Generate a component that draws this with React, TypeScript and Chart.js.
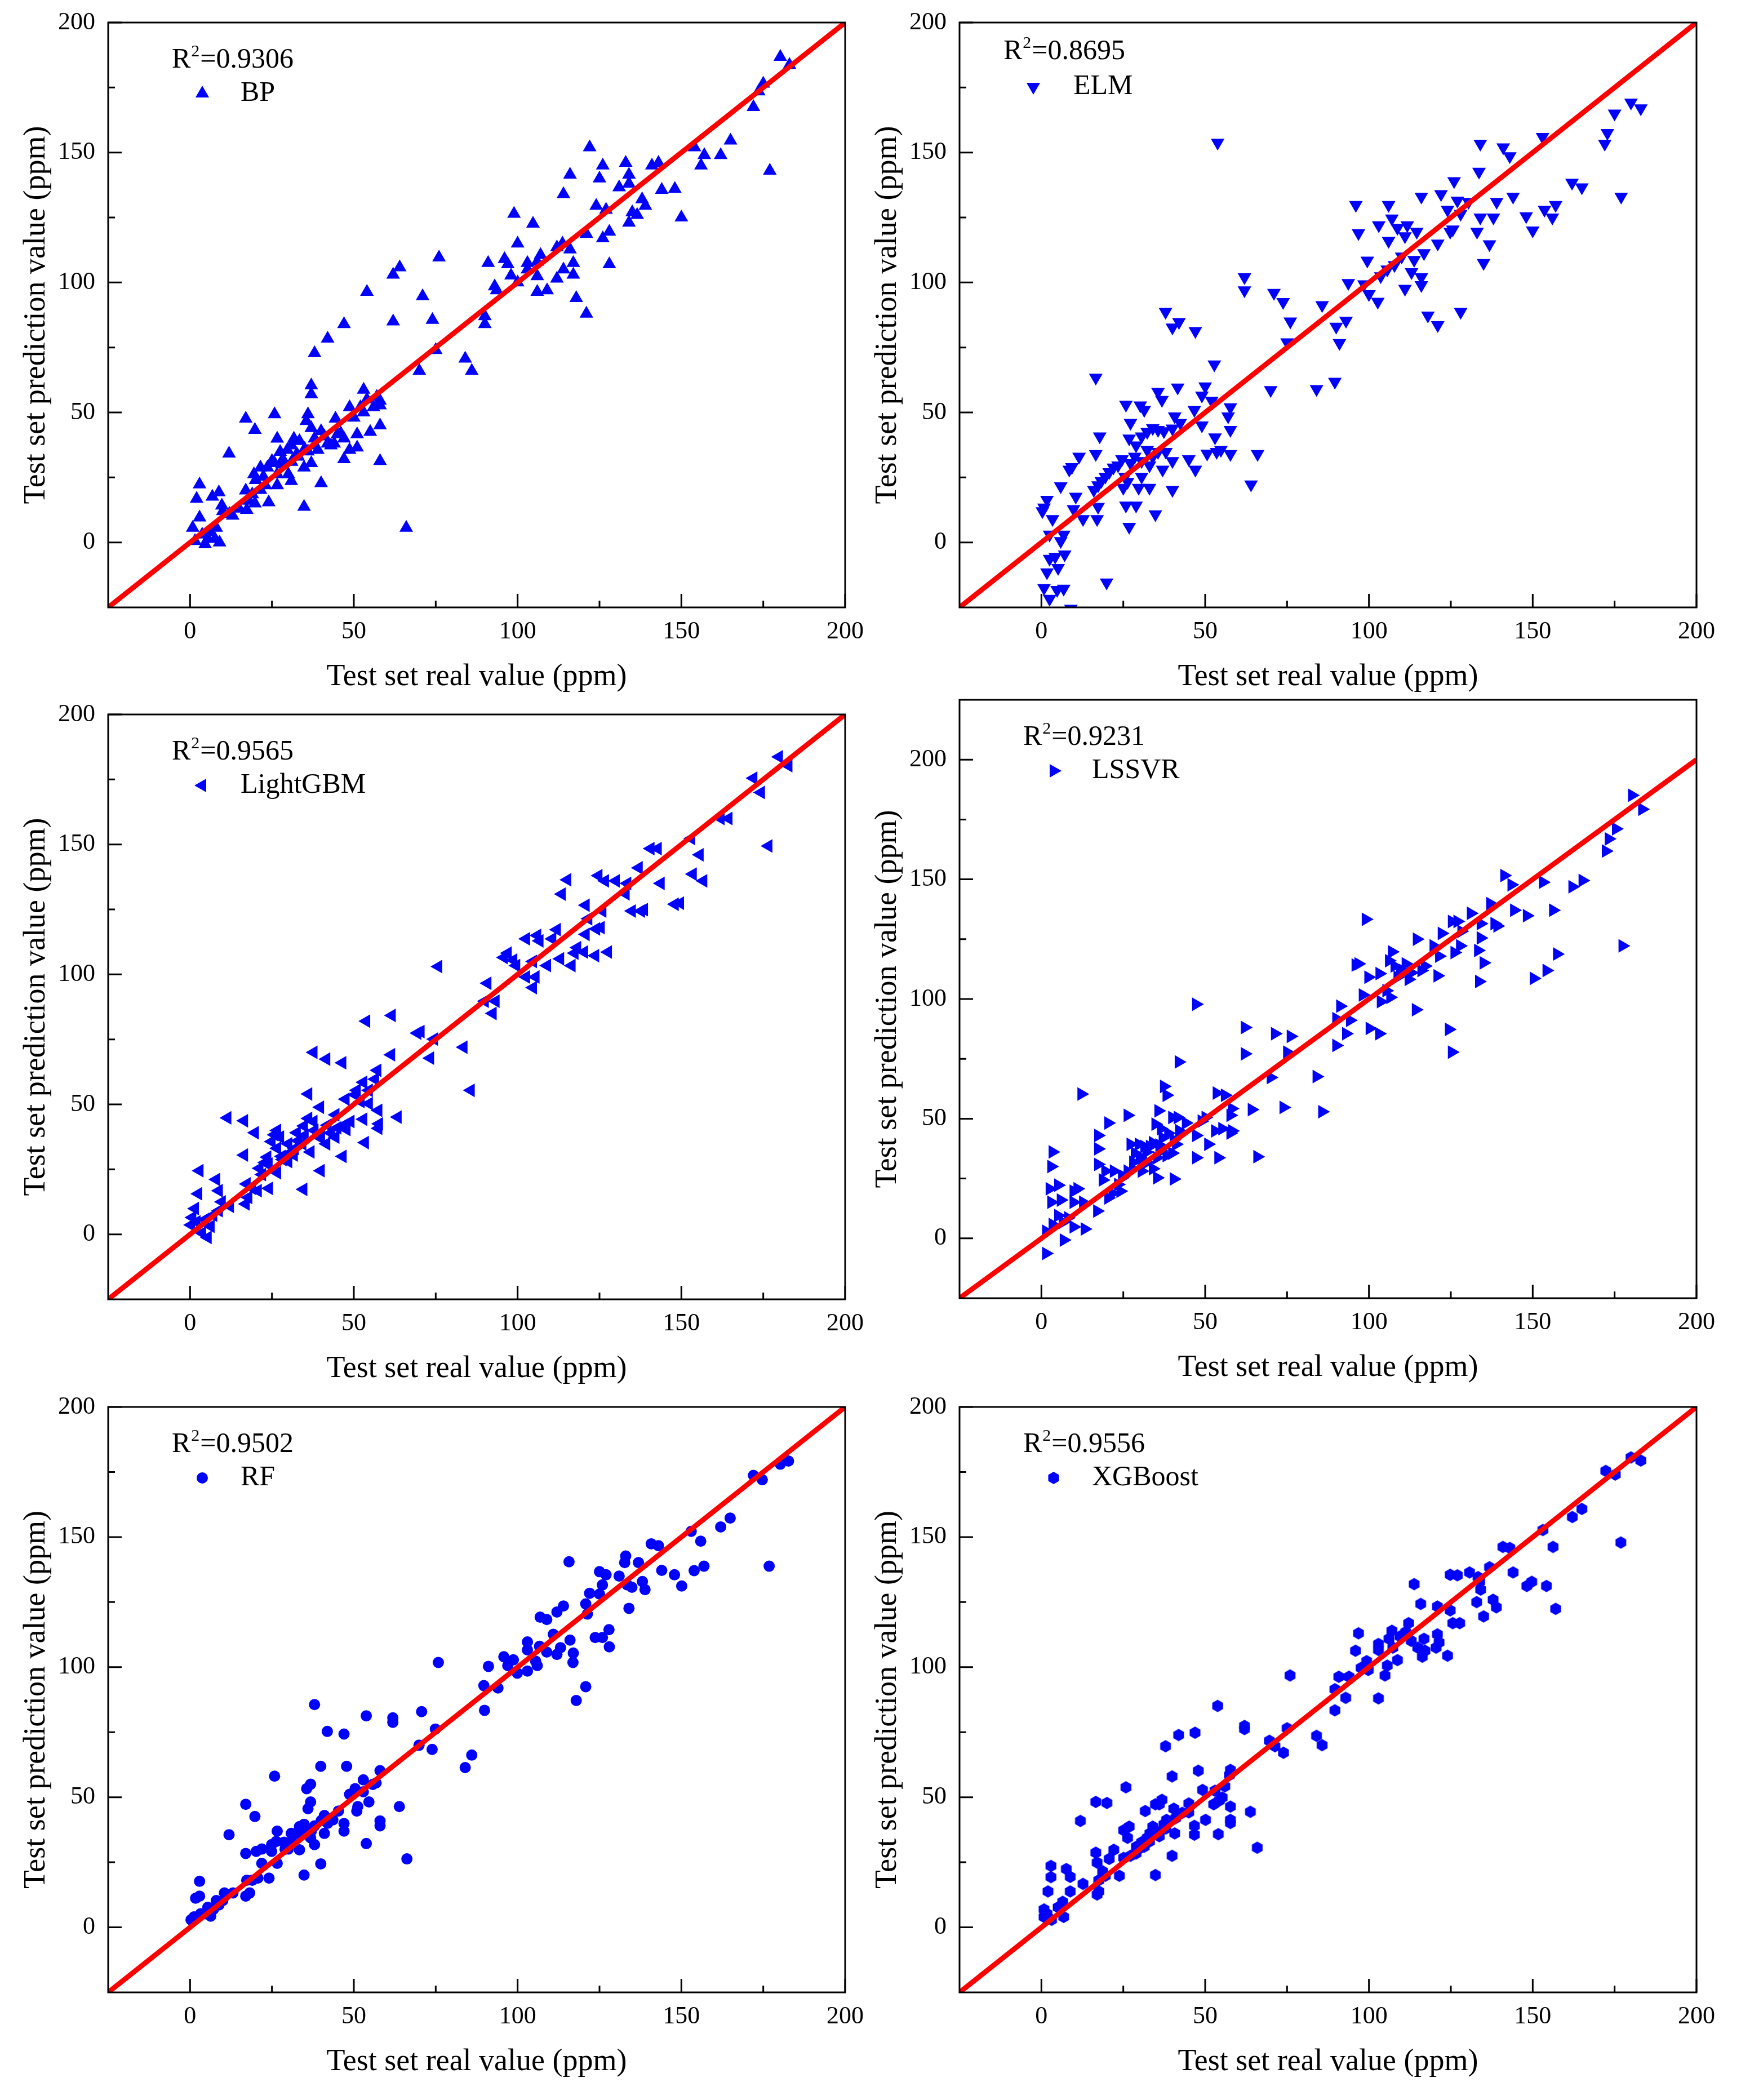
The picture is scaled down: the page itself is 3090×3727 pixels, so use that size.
import { useEffect, useRef } from 'react';
import { Chart, registerables } from 'chart.js';
import { drawPoint } from 'chart.js/helpers';

Chart.register(...registerables);

const FONT = '"Liberation Serif", "Times New Roman", Times, serif';
const BLUE = '#0000ff';
const RED = '#ff0000';

// axis ticks shared by every panel
const MAJOR_TICKS = [0, 50, 100, 150, 200];
const MINOR_TICKS = [25, 75, 125, 175];
const IDENTITY_LINE = [-25, 200];

// test set: [real value, predicted value] (ppm)
const bpPoints: [number, number][] = [
  [180.2, 186.8], [183, 183.7], [175, 176.5], [173.6, 173.5], [172, 167.5], [177, 143], [165, 154.6], [162, 149],
  [157, 149], [156, 145], [154, 152], [150, 125], [148, 136], [144, 135.6], [143, 146], [141, 145], [138, 132],
  [139, 129.5], [136.5, 126], [135, 127], [134, 123], [133, 146], [134, 141.5], [134, 138], [131, 136.6], [126, 145],
  [125, 140], [122, 152], [124, 129.5], [126, 117], [127, 128], [128, 119.5], [128, 107], [121, 118.7], [121, 88],
  [117.9, 94], [116, 141.5], [114, 134], [116, 112.7], [117, 107.5], [117, 103], [113.7, 115], [112, 113.5],
  [112, 101.5], [114, 105], [109, 97], [107, 110.6], [106, 108], [106, 102.4], [106, 96.4], [103, 107.5], [103, 105],
  [104.7, 122.6], [100, 115], [98.9, 126.4], [100, 100], [98, 102.7], [96, 109], [97, 107], [93, 98.5], [93.6, 97],
  [91, 107.5], [90, 87], [90, 84], [84, 70.7], [86, 66], [76, 109.6], [75, 74], [74, 85.6], [71, 94.7], [70, 66],
  [64, 105.8], [62, 103], [62, 85], [54, 96.4], [47, 84], [42, 78.4], [38, 72.8], [66, 5.6], [58, 31.3], [58, 54.5],
  [58, 45], [57, 56], [58, 52.7], [53, 58.7], [53, 50], [52, 52], [48.7, 52], [55, 42.5], [51, 41.6], [51, 36.5],
  [48.7, 35.6], [47, 32], [47, 40], [44.4, 47.6], [45, 41.6], [43, 37.3], [41, 40.8], [40, 42.8], [40, 22.8],
  [39, 35.6], [38, 37.3], [37, 60.4], [37, 57], [36, 49.3], [35.5, 46.7], [37, 44], [37, 30.5], [34.8, 28.8],
  [34.8, 13.7], [33.4, 39], [32.6, 34], [31.7, 39.9], [30.9, 37.3], [29.7, 35.6], [28.3, 32], [27.5, 34.8],
  [26.6, 39.9], [25.8, 49.3], [25.8, 30.5], [26.6, 26.2], [30, 26.2], [30.9, 23.6], [25, 31.3], [23.6, 28.8],
  [22.4, 25.3], [26.6, 22], [24, 15.4], [21.5, 28.8], [21.5, 20.2], [19.8, 43.3], [17, 47.6], [19.5, 26.2],
  [19, 18.5], [19.8, 15], [17, 20], [17.3, 12.5], [18, 16], [11.9, 34.2], [13, 10.3], [9.7, 14.2], [8.8, 19.3],
  [6.8, 17.6], [8, 5.6], [9, 0], [7.6, 1.4], [6, 4], [4.6, -0.7], [2.9, 22.3], [2, 16.8], [2.9, 9.6], [0.8, 5.6],
  [1.5, 0.5], [3.7, 3], [5.4, 1.4], [28, 30], [33, 33], [35, 36], [38, 40], [42, 38], [46, 42], [50, 48], [54, 55],
  [56, 52], [23, 22], [20, 24], [15, 13], [12, 11], [10, 12], [31, 31], [36, 35], [44, 38],
];

const elmPoints: [number, number][] = [
  [180, 169.2], [183, 167], [175, 165], [172.8, 157.5], [172, 153.4], [177, 133], [165, 136.6], [162, 138.4],
  [157, 129.8], [156, 125], [153.6, 128], [153, 156], [150, 120], [148, 125.5], [144, 133], [141, 152], [143, 148.6],
  [139, 131], [138, 125], [136.8, 114.7], [135, 107.5], [134, 153.4], [133.6, 142.6], [134, 125], [133, 119.5],
  [130.4, 131], [128, 88.7], [128, 126.4], [126, 139], [125.6, 120.4], [124.8, 119.5], [124, 128], [122, 134],
  [127, 131.5], [121, 115], [121, 83.6], [118, 87.3], [116.8, 111.3], [116, 133], [116, 102], [116, 99],
  [114.6, 119.5], [113, 104], [113.8, 108.7], [111.7, 122], [111, 97.6], [111, 117.8], [110, 110], [108.7, 121],
  [107, 124.6], [106, 129.8], [106, 116], [107.8, 106.7], [105.6, 105], [103.6, 102.4], [103, 122], [102.7, 92.6],
  [100, 95.5], [99.5, 108.4], [98.5, 99.3], [96.8, 119], [96, 129.8], [93.7, 99.8], [93, 85.3], [91, 76.7], [90, 83],
  [89.6, 61.8], [85.7, 91.3], [84, 59], [76, 85], [75, 77], [73.8, 92.5], [71, 96], [70, 58.6], [62, 102], [62, 97],
  [66, 34], [64, 22.3], [53.8, 153.8], [52.8, 68.5], [50, 60], [57.7, 52], [57, 48.5], [57.7, 43.3], [57.7, 34],
  [54.8, 35.6], [53, 40.4], [53.5, 34.8], [50.6, 34.2], [52, 54.5], [49, 56.5], [46.7, 51], [49, 45], [47, 28],
  [45, 32], [41.6, 59.6], [37.9, 88.7], [40, 82.7], [42, 84.8], [47, 81.3], [35.6, 57.9], [36.8, 54.8], [40.7, 48.5],
  [42.4, 46], [40, 43.8], [37.4, 42.8], [35.6, 43.3], [34, 44], [32.3, 42.5], [30.6, 40.8], [30.2, 52.7], [31.4, 51],
  [26.8, 40], [27.2, 46], [25.8, 53], [28.9, 37.3], [32.3, 35.6], [34, 33], [35.6, 34.8], [38, 34.8], [40, 31.3],
  [37, 28], [33, 29.6], [30.6, 31.3], [28.5, 33], [27.2, 30.5], [24.6, 32], [23.4, 29.6], [22, 28.8], [20.7, 27],
  [19.5, 25.3], [18.3, 23.6], [17.3, 22], [16, 20.2], [25.5, 25.3], [26.3, 23.3], [25, 21], [25.8, 14.2],
  [28.9, 14.2], [29.7, 21], [33, 21], [30.6, 25.3], [26.8, 6], [34.8, 10.8], [40, 20.2], [17.8, 40.8], [16.6, 34],
  [16.6, 63.4], [11.5, 33], [9.3, 29], [8.5, 28], [5.9, 21.6], [10.5, 17.6], [9.8, 12.8], [12.7, 9], [17, 9],
  [17.3, 13.7], [1.7, 16.4], [0.8, 13.4], [0.3, 12], [3.4, 9], [2.5, 3], [6.8, 3], [5.9, 0.5], [4.2, -5.5],
  [2.5, -6.3], [5.1, -9.8], [7.1, -4.6], [1.7, -11.5], [0.8, -17.5], [2.5, -21.7], [4.8, -18.3], [6.8, -17.8],
  [9, -25.5], [19.9, -15.4],
];

const lightgbmPoints: [number, number][] = [
  [179.8, 183.7], [182.7, 180.3], [172, 175.5], [174.3, 170], [176.6, 149.4], [164.4, 160], [162, 160], [155.6, 146],
  [156.7, 136], [153, 152.3], [153.5, 138.6], [149.6, 127.4], [148, 127], [143.7, 135], [142.8, 148.4], [140.6, 148.4],
  [137, 141], [138.6, 124.9], [137.7, 124.4], [134.9, 124.4], [133.5, 135], [133, 131], [130, 136], [126.7, 136],
  [124.7, 138], [127.6, 108.6], [125.4, 118], [124, 117.5], [123.7, 107.2], [125.9, 124.4], [120.8, 126.6],
  [121.6, 121.4], [120.8, 115.4], [120.3, 108.6], [117.4, 108.2], [116.5, 103.4], [118.2, 110.3], [115.2, 136.4],
  [113.5, 130.9], [112, 117.2], [113, 106], [110.6, 113.7], [109, 103.4], [106.7, 112.9], [106, 115], [104.7, 105],
  [105.5, 99], [104.7, 94.9], [102.6, 113.7], [102.6, 99], [99.6, 103.4], [98.7, 105.5], [97, 108.2], [95.8, 106.5],
  [90.8, 96.6], [90, 89.7], [93.3, 89.7], [92.4, 85], [83.5, 72], [85.7, 55.4], [75.8, 103], [74.5, 75.1],
  [73.3, 67.8], [70.4, 78], [69.4, 77.4], [61.6, 84.2], [61.4, 69.1], [53.8, 82], [57.2, 63.1], [56.5, 59.7],
  [54.6, 55.4], [52.9, 58.5], [50.9, 55.4], [50.4, 53.7], [52.1, 51.1], [54.6, 50.3], [57.5, 47.7], [57.7, 42.5],
  [57.5, 40.8], [63.4, 45.1], [52.9, 44.3], [53.4, 35.3], [49, 43.4], [47.8, 40.3], [47, 42], [46.6, 30], [46.5, 66],
  [47.5, 52], [44.4, 46], [44.4, 37.4], [41.6, 67.4], [37.7, 70], [39.7, 48.9], [41.6, 34.8], [39.4, 37.4],
  [39.9, 24.5], [37.7, 43.4], [36.1, 54], [36.1, 44.6], [36.8, 31.7], [34.6, 17.3], [34.8, 41.7], [34.3, 34.8],
  [32.6, 39.1], [31.7, 30.5], [30, 28], [28.3, 28.8], [26.6, 33.1], [26.6, 40], [25.8, 38.3], [24.9, 35.7],
  [27.5, 37.4], [30, 34.8], [23.6, 29.7], [22.9, 27.6], [21.2, 25.4], [26.6, 23.7], [24.1, 17.7], [19.8, 39.1],
  [16.5, 43.7], [11.4, 44.8], [16.5, 30.5], [17.3, 19.4], [19, 17.7], [20.7, 16.8], [17, 11.7], [17.8, 14.2],
  [12.2, 10.8], [9.7, 12.5], [8, 21.1], [8.8, 16.8], [7.1, 7.4], [6.3, 3.1], [5.4, -1.2], [3.7, 0.5], [2.9, 24.5],
  [2.5, 15.6], [1.5, 9.9], [0.7, 6.5], [0.3, 3.6], [2, 4.8], [4.6, 5.7], [8.8, 9.1], [30, 31], [33, 36], [35, 38],
  [38, 40], [42, 42], [28, 30], [24, 27], [22, 23], [43, 39], [45, 41], [40, 38], [32, 33],
];

const lssvrPoints: [number, number][] = [
  [180.3, 185.1], [183.4, 179.3], [175.4, 171.1], [173.2, 166.9], [172.3, 161.8], [177.4, 122.2], [165.2, 149.5],
  [162.1, 146.9], [156.2, 137.1], [157.4, 118.8], [154.2, 111.9], [150.3, 108.6], [153.1, 148.8], [148.2, 134.8],
  [144.3, 137.1], [143.5, 147.7], [141.3, 151.6], [139.2, 130.5], [138.3, 131.5], [137, 139.9], [135, 115.1],
  [133.6, 107.3], [134.1, 125.5], [133.3, 120.3], [134.1, 131.5], [131.1, 135.8], [128.2, 128.3], [127.8, 122.2],
  [127, 132.4], [125.3, 132.4], [126.1, 119.4], [122.2, 127.4], [121.4, 117.9], [120.9, 109.7], [124.4, 87.3],
  [125.3, 77.8], [119.7, 122.2], [117.1, 113.8], [116, 111.9], [114.6, 125], [114.3, 95.5], [112.9, 111],
  [112.1, 108.2], [111.2, 114.7], [110.4, 111.9], [109.5, 111], [108.7, 109.1], [107.8, 113.8], [107, 119.7],
  [106.1, 116], [106.5, 100.7], [105.3, 103.5], [103.6, 98.9], [103.2, 110.6], [103.1, 85.5], [100.2, 87.7],
  [99.8, 109.1], [98.1, 101.7], [99, 133.3], [96.8, 114.7], [95.9, 114.2], [94.2, 91.1], [93, 85.5], [91.2, 97],
  [90, 91.8], [90, 80.6], [85.7, 52.9], [84, 67.6], [76.1, 84.4], [75, 77.8], [71.3, 85.5], [70, 67.2], [73.9, 54.7],
  [62.1, 88.1], [62.1, 77.1], [64.2, 53.8], [65.9, 34.1], [47.2, 97.8], [41.9, 73.7], [58.1, 54.2], [57.7, 51.4],
  [58.2, 44.9], [57.7, 44], [56, 59.8], [53.5, 60.7], [55.2, 45.8], [54, 33.7], [53, 44.9], [50.9, 39.3], [48.9, 49],
  [50.1, 50.5], [47.2, 43], [47.2, 33.7], [44.1, 48.2], [41.6, 50.5], [39.9, 50.5], [37.4, 63.5], [38.2, 59.8],
  [35.7, 53.3], [34.8, 47.7], [36.5, 45.8], [38.7, 43.9], [40.4, 41.2], [41.1, 39.3], [39.9, 35.6], [40.4, 24.8],
  [38.2, 34.6], [36.5, 36.5], [35.3, 33.7], [35.3, 25.3], [33.1, 38.4], [31.4, 38.4], [29.7, 39.3], [27.2, 39.3],
  [28.5, 35.6], [30.6, 32.8], [32.3, 31.8], [34, 29.1], [30.6, 28.1], [28, 31.8], [26.3, 28.1], [26.3, 51.4],
  [24.6, 25.3], [23.4, 22.5], [22.1, 28.1], [20.4, 48.2], [19.5, 28.1], [18.7, 24.4], [20.4, 16.9], [21.7, 18.8],
  [24.1, 19.7], [17.3, 43], [17.3, 37.4], [17.3, 30.9], [17, 11.4], [12.2, 60.3], [11, 20.7], [9.8, 19.7],
  [9.8, 15.1], [12.7, 15.1], [5.1, 22.2], [2.5, 20.7], [3, 15.1], [3.4, 36.1], [3, 30], [5.9, 16], [5.1, 9.5],
  [6.5, 6.7], [6.8, -0.7], [9.8, 4.8], [13.2, 3.9], [3.4, 5.8], [1.4, 3], [1.4, -6.3], [8.1, 8.6], [32, 36],
  [34, 40], [37, 42], [30, 34], [28, 29], [36, 39], [42, 45], [25, 26],
];

const rfPoints: [number, number][] = [
  [180.2, 178], [182.7, 179.2], [172, 173.7], [174.7, 172], [176.8, 138.8], [164.9, 157.3], [162, 153.9],
  [155.9, 148.4], [156.9, 138.8], [153, 152.2], [153.9, 137.1], [150.1, 131.2], [147.9, 135.5], [144, 137.2],
  [143, 146.7], [140.8, 147.4], [136.9, 140.2], [138.1, 132.9], [138.9, 129.8], [134, 122.6], [134.9, 130.7],
  [133.5, 131.6], [133, 142.7], [132.7, 140.2], [131, 135], [127, 135.5], [125.9, 131.6], [125, 136.7], [125, 128.1],
  [122, 128.4], [120.8, 124.3], [121.3, 120.4], [127.9, 114.4], [128, 107.8], [125.9, 111.4], [123.7, 111.4],
  [120.8, 92.5], [117.9, 87.2], [117, 105.4], [116.9, 101.8], [116, 110.4], [115.7, 140.5], [114, 123.5],
  [112, 121.2], [110.9, 112.6], [113.1, 107.5], [112, 104.9], [108.9, 118.3], [106.9, 119.2], [106.7, 108],
  [108.9, 105.8], [105.5, 102.3], [106, 100.6], [103, 109.7], [103, 106.6], [103, 98.5], [99.9, 97.7], [98.7, 102.8],
  [97, 100.6], [95.8, 104], [91.1, 100.3], [89.7, 92.9], [89.9, 83.4], [94, 92], [86, 66.2], [84, 61.4],
  [75.8, 101.8], [74.9, 76.2], [73.9, 68.4], [70.7, 82.9], [69.9, 70], [61.9, 80.5], [61.9, 78.8], [53.8, 81.3],
  [47, 74.3], [41.9, 75.3], [38, 85.6], [66.2, 26.3], [63.9, 46.4], [58, 40.9], [58, 39], [58, 60.2], [56.8, 55.5],
  [55.8, 54.9], [54.6, 48.2], [52.9, 56.7], [52.9, 52.1], [51.2, 46.4], [50.9, 44.7], [50.4, 53.3], [48.7, 51.1],
  [47.8, 61.9], [47, 39.9], [47, 37], [53.8, 32.2], [45.3, 44.7], [43.6, 41.3], [41, 43], [41, 36.1], [39.9, 61.9],
  [39.9, 24.4], [38, 31.8], [36.8, 48.2], [36, 45.6], [35.6, 53.3], [36.8, 55], [36.8, 34.4], [34.8, 20.1],
  [34.8, 39.6], [33.4, 38.7], [32.6, 36.1], [33.4, 29.8], [30.9, 36.1], [30, 30.1], [28.7, 32.7], [26.6, 37],
  [26.3, 33], [24.9, 31.8], [24.9, 29.2], [25.8, 58.1], [26.6, 24.6], [24.1, 18.9], [21.9, 24.6], [21.9, 30.1],
  [20.2, 29.2], [19.8, 42.6], [17, 47.3], [17, 28.4], [20.7, 18.9], [19, 18.1], [17.3, 18.1], [18.2, 13.2],
  [17, 12], [11.9, 35.6], [13.1, 13.2], [10.5, 13.2], [10, 10.3], [8.8, 8.6], [8, 10.3], [7.1, 6.9], [6.3, 4.3],
  [5.4, 7.7], [4.6, 5.2], [2.9, 17.7], [2.9, 12], [1.7, 11.2], [1.2, 4], [0.3, 2.9], [3.2, 5.2], [31, 33], [35, 36],
  [38, 39], [40, 41], [29, 30], [37, 37], [42, 40],
];

const xgboostPoints: [number, number][] = [
  [180, 180.6], [183, 179.4], [172.3, 175.4], [175.2, 174], [176.9, 147.9], [165, 160.8], [162.1, 157.7],
  [153.1, 152.7], [156.2, 146.2], [157, 122.4], [154.2, 131.2], [149.7, 132.8], [148.2, 131.2], [144, 136.4],
  [143, 145.8], [140.9, 146.2], [136.8, 138.4], [138.9, 123], [137.9, 125.9], [135, 119.5], [134.1, 129.8],
  [133.8, 132.9], [133.3, 134.6], [132.9, 125], [130.7, 136.4], [127, 135.3], [124.8, 135.5], [127.7, 116.9],
  [125.6, 116.9], [124.8, 121.8], [124, 104.4], [120.9, 123.3], [120.9, 112.6], [121.4, 109.5], [120.5, 107.5],
  [115.8, 124.3], [113.8, 131.9], [116.8, 110.9], [117.1, 106.3], [116.3, 104], [114.9, 107.5], [112.9, 110.1],
  [112.1, 116.9], [111.2, 113.5], [109.5, 111.8], [108.7, 102.7], [107, 114], [107.3, 107.5], [106.1, 110.9],
  [105.6, 100.6], [104.9, 96.8], [102.9, 108.9], [102.9, 106.6], [102.9, 88], [99.8, 98.9], [99.3, 102.3],
  [97.6, 99.7], [96.8, 113], [95.9, 106.3], [93.9, 96.3], [92.9, 88.2], [90.8, 96.3], [89.6, 91.5], [89.6, 83.4],
  [85.7, 70], [84, 73.6], [75.9, 96.8], [75, 76.5], [73.9, 67.1], [71.3, 69.6], [69.6, 71.7], [62, 77.4], [62, 76.2],
  [53.8, 85.1], [46.9, 74.8], [41.9, 73.9], [37.9, 69.6], [65.9, 30.6], [63.8, 44.4], [57.7, 60.5], [57.4, 58.5],
  [56, 54.2], [57.7, 46.4], [57.7, 41.3], [57.7, 40.1], [55.2, 49.9], [54.3, 48.7], [54, 35.8], [52.6, 47.3],
  [53, 52.5], [49.2, 52.8], [50.1, 41.3], [47.9, 60.2], [46.7, 39], [46.7, 35.6], [45, 47.6], [45, 44.2], [39.9, 58],
  [40.4, 45.6], [40.7, 36.1], [39.9, 27.5], [38.2, 41.3], [37.4, 39.6], [36.8, 49], [36, 47.3], [34.8, 47.3],
  [34.8, 20.1], [34, 38.7], [33.1, 36.1], [32.3, 34.4], [31.7, 44.7], [30.6, 32.7], [31.4, 31], [29.7, 30.1],
  [28.9, 28.4], [27.2, 27.5], [25.8, 53.8], [26.8, 38.7], [25.1, 37.3], [26.3, 34.4], [25.1, 26.7], [23.8, 19.8],
  [22.1, 29.8], [20.7, 26.3], [20, 47.8], [16.6, 48.2], [16.6, 28.7], [17, 24.9], [18.7, 21.5], [19.5, 19.8],
  [17.5, 18.1], [17.5, 13.8], [17, 12.6], [11.9, 40.9], [12.7, 16.7], [8.8, 13.8], [7.6, 22.4], [8.8, 19.4],
  [2, 13.8], [2.9, 23.6], [2.9, 19.3], [6.5, 9.8], [5.1, 7.7], [6.8, 4], [3.1, 2.9], [0.8, 6.9], [0.8, 4],
  [1.7, 5.2], [33, 33], [35, 37], [38, 38], [41, 42], [29, 31], [36, 35], [43, 44],
];

type PanelDef = {
  label: string;
  r2: string;
  points: [number, number][];
  pointStyle: string;
  rotation: number;
  radius: number;
  yMax: number;
  plot: { left: number; top: number; right: number; bottom: number };
  legend: { r2x: number; r2y: number; mx: number; my: number; lx: number };
};

const LEGEND_STD = { r2x: 113, r2y: 67, mx: 167, my: 126, lx: 235 };

const PANELS: PanelDef[] = [
  { label: 'BP', r2: '0.9306', points: bpPoints, pointStyle: 'triangle', rotation: 0, radius: 14, yMax: 200,
    plot: { left: 192, top: 40, right: 1500, bottom: 1078 }, legend: LEGEND_STD },
  { label: 'ELM', r2: '0.8695', points: elmPoints, pointStyle: 'triangle', rotation: 180, radius: 14, yMax: 200,
    plot: { left: 1703, top: 40, right: 3011, bottom: 1078 }, legend: { r2x: 78, r2y: 52, mx: 131, my: 114, lx: 202 } },
  { label: 'LightGBM', r2: '0.9565', points: lightgbmPoints, pointStyle: 'triangle', rotation: -90, radius: 14, yMax: 200,
    plot: { left: 192, top: 1268, right: 1500, bottom: 2306 }, legend: LEGEND_STD },
  { label: 'LSSVR', r2: '0.9231', points: lssvrPoints, pointStyle: 'triangle', rotation: 90, radius: 14, yMax: 225,
    plot: { left: 1703, top: 1242, right: 3011, bottom: 2304 }, legend: LEGEND_STD },
  { label: 'RF', r2: '0.9502', points: rfPoints, pointStyle: 'circle', rotation: 0, radius: 10, yMax: 200,
    plot: { left: 192, top: 2497, right: 1500, bottom: 3536 }, legend: LEGEND_STD },
  { label: 'XGBoost', r2: '0.9556', points: xgboostPoints, pointStyle: 'hexagon', rotation: 0, radius: 11, yMax: 200,
    plot: { left: 1703, top: 2497, right: 3011, bottom: 3536 }, legend: LEGEND_STD },
];

const AXIS_W = 185;
const AXIS_H = 180;
const PAD_TOP = 60;
const PAD_RIGHT = 60;

function makeHexagon(r: number) {
  const c = document.createElement('canvas');
  const size = Math.ceil(r * 2 + 2);
  c.width = size;
  c.height = size;
  const ctx = c.getContext('2d')!;
  ctx.fillStyle = BLUE;
  ctx.beginPath();
  for (let i = 0; i < 6; i++) {
    const a = -Math.PI / 2 + (i * Math.PI) / 3;
    const px = size / 2 + Math.cos(a) * r;
    const py = size / 2 + Math.sin(a) * r;
    if (i === 0) ctx.moveTo(px, py);
    else ctx.lineTo(px, py);
  }
  ctx.closePath();
  ctx.fill();
  return c;
}

function makeFramePlugin(panel: PanelDef, style: any) {
  return {
    id: 'frame',
    afterDraw(chart: any) {
      const { ctx, chartArea: a } = chart;
      const xs = chart.scales.x;
      const ys = chart.scales.y;
      ctx.save();
      ctx.strokeStyle = '#000';
      ctx.lineWidth = 3;
      ctx.beginPath();
      const tick = (v: number, len: number) => {
        const px = xs.getPixelForValue(v);
        ctx.moveTo(px, a.bottom);
        ctx.lineTo(px, a.bottom - len);
        const py = ys.getPixelForValue(v);
        ctx.moveTo(a.left, py);
        ctx.lineTo(a.left + len, py);
      };
      MAJOR_TICKS.forEach((v) => tick(v, 24));
      MINOR_TICKS.forEach((v) => tick(v, 12));
      ctx.stroke();
      ctx.strokeRect(a.left, a.top, a.right - a.left, a.bottom - a.top);

      // R² text and legend entry
      const lg = panel.legend;
      ctx.fillStyle = '#000';
      ctx.textBaseline = 'middle';
      ctx.textAlign = 'left';
      let x = a.left + lg.r2x;
      const y = a.top + lg.r2y;
      ctx.font = `50px ${FONT}`;
      ctx.fillText('R', x, y);
      x += ctx.measureText('R').width;
      ctx.font = `30px ${FONT}`;
      ctx.fillText('2', x + 1, y - 15);
      x += ctx.measureText('2').width + 2;
      ctx.font = `50px ${FONT}`;
      ctx.fillText('=' + panel.r2, x, y);

      ctx.fillStyle = BLUE;
      drawPoint(ctx, { pointStyle: style, rotation: panel.rotation, radius: panel.radius, borderWidth: 0 } as any,
        a.left + lg.mx, a.top + lg.my);
      ctx.fillStyle = '#000';
      ctx.fillText(panel.label, a.left + lg.lx, a.top + lg.my);
      ctx.restore();
    },
  };
}

function ParityPanel({ panel }: { panel: PanelDef }) {
  const canvasRef = useRef<HTMLCanvasElement>(null);
  const { left, top, right, bottom } = panel.plot;
  const cw = AXIS_W + (right - left) + PAD_RIGHT;
  const ch = PAD_TOP + (bottom - top) + AXIS_H;

  useEffect(() => {
    let chart: Chart | null = null;
    let cancelled = false;

    const build = () => {
      if (cancelled || !canvasRef.current) return;
      const style: any = panel.pointStyle === 'hexagon' ? makeHexagon(panel.radius) : panel.pointStyle;
      const tickFont = { family: FONT, size: 44 };
      const titleFont = { family: FONT, size: 54 };

      chart = new Chart(canvasRef.current, {
        type: 'scatter',
        data: {
          datasets: [
            {
              type: 'line',
              data: IDENTITY_LINE.map((v) => ({ x: v, y: v })),
              borderColor: RED,
              borderWidth: 9,
              pointRadius: 0,
              showLine: true,
              fill: false,
            } as any,
            {
              data: panel.points.map(([x, y]) => ({ x, y })),
              pointStyle: style,
              pointRotation: panel.rotation,
              pointRadius: panel.radius,
              pointBackgroundColor: BLUE,
              pointBorderColor: BLUE,
              pointBorderWidth: 0,
              backgroundColor: BLUE,
            },
          ],
        },
        options: {
          animation: false,
          responsive: false,
          maintainAspectRatio: false,
          layout: { padding: { top: PAD_TOP, right: PAD_RIGHT, left: 0, bottom: 0 } },
          plugins: { legend: { display: false }, tooltip: { enabled: false } },
          scales: {
            x: {
              type: 'linear',
              min: -25,
              max: 200,
              afterBuildTicks: (s: any) => { s.ticks = MAJOR_TICKS.map((value) => ({ value })); },
              afterFit: (s: any) => { s.height = AXIS_H; },
              grid: { display: false, drawTicks: false },
              border: { display: false },
              ticks: { font: tickFont, color: '#000', padding: 17, maxRotation: 0 },
              title: { display: true, text: 'Test set real value (ppm)', font: titleFont, color: '#000', padding: { top: 0, bottom: 24 } },
            },
            y: {
              type: 'linear',
              min: -25,
              max: panel.yMax,
              afterBuildTicks: (s: any) => { s.ticks = MAJOR_TICKS.map((value) => ({ value })); },
              afterFit: (s: any) => { s.width = AXIS_W; },
              grid: { display: false, drawTicks: false },
              border: { display: false },
              ticks: { font: tickFont, color: '#000', padding: 23 },
              title: { display: true, text: 'Test set prediction value (ppm)', font: titleFont, color: '#000', padding: { top: 25, bottom: 0 } },
            },
          },
        },
        plugins: [makeFramePlugin(panel, style)],
      } as any);
    };

    // make sure the serif face is ready before the canvas text is drawn
    const fonts = (document as any).fonts;
    if (fonts && fonts.load) {
      Promise.all([fonts.load('50px "Liberation Serif"'), fonts.load('50px "Times New Roman"')])
        .catch(() => null)
        .then(build);
    } else {
      build();
    }

    return () => {
      cancelled = true;
      if (chart) chart.destroy();
    };
  }, [panel]);

  return (
    <canvas
      ref={canvasRef}
      width={cw}
      height={ch}
      style={{ position: 'absolute', left: left - AXIS_W, top: top - PAD_TOP, width: cw, height: ch }}
    />
  );
}

export default function App() {
  return (
    <div style={{ position: 'absolute', left: 0, top: 0, width: 3090, height: 3727, background: '#fff', fontFamily: FONT }}>
      {PANELS.map((p) => (
        <ParityPanel key={p.label} panel={p} />
      ))}
    </div>
  );
}
